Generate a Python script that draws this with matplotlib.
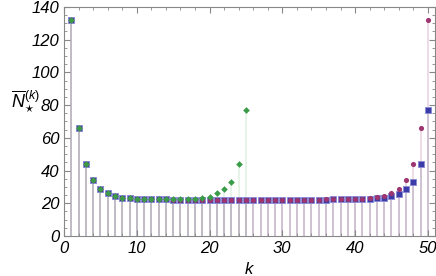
import matplotlib
matplotlib.use('Agg')
import matplotlib.pyplot as plt
from matplotlib.ticker import MultipleLocator

plt.rcParams['font.family'] = ['Liberation Sans', 'DejaVu Sans']
plt.rcParams['mathtext.fontset'] = 'custom'
plt.rcParams['mathtext.it'] = 'Liberation Sans:italic'
plt.rcParams['mathtext.rm'] = 'Liberation Sans'

# values
k_blue = list(range(1, 51))
n_blue = [132, 66, 44, 34, 29, 26, 24.3, 23.2, 23.0, 22.7,
          22.5, 22.4, 22.3, 22.3, 22.2, 22.2, 22.2, 22.2, 22.2, 22.2,
          22.2, 22.2, 22.2, 22.2, 22.2, 22.2, 22.2, 22.2, 22.2, 22.2,
          22.2, 22.2, 22.2, 22.2, 22.2, 22.2, 22.3, 22.3, 22.4, 22.4,
          22.5, 22.6, 23.0, 23.5, 24.4, 25.7, 28.5, 33.2, 44, 77]

k_purple = list(range(1, 51))
n_purple = [132, 66, 44, 34, 29, 26, 24.3, 23.2, 23.0, 22.7,
            22.5, 22.4, 22.3, 22.3, 22.2, 22.2, 22.2, 22.2, 22.2, 22.2,
            22.2, 22.2, 22.2, 22.2, 22.2, 22.2, 22.2, 22.2, 22.2, 22.2,
            22.2, 22.2, 22.2, 22.2, 22.2, 22.3, 22.3, 22.4, 22.4, 22.5,
            22.6, 23.0, 23.8, 24.6, 26.3, 29, 34, 44, 66, 132]

k_green = list(range(1, 26))
n_green = [132, 66, 44, 34, 29, 26, 24.3, 23.2, 23.0, 22.7,
           22.5, 22.4, 22.3, 22.3, 22.3, 22.4, 22.4, 22.6, 23.4, 24.0,
           26.0, 28.5, 33.2, 44.2, 77]

c_blue = '#3c3ca8'
c_purple = '#9c3570'
c_green = '#3a9b48'

fig = plt.figure(figsize=(4.36, 2.76), dpi=100)
ax = fig.add_axes([0.147, 0.145, 0.851, 0.83])

# stems, semi-transparent so overlapping ones blend
ax.vlines(k_green, 0, n_green, color=c_green, alpha=0.12, lw=1.4, zorder=1)
ax.vlines(k_purple, 0, n_purple, color=c_purple, alpha=0.18, lw=1.4, zorder=1)
ax.vlines(k_blue, 0, n_blue, color='#8080a0', alpha=0.28, lw=1.4, zorder=1)

ax.plot(k_blue, n_blue, 's', ms=4.6, color=c_blue, mec='#8c8cd6', mew=0.7, zorder=3)
ax.plot(k_purple, n_purple, 'o', ms=3.7, color=c_purple, mec=c_purple, mew=0, zorder=4)
ax.plot(k_green, n_green, 'D', ms=3.4, color=c_green, mec=c_green, mew=0, zorder=5)

ax.set_xlim(0, 51)
ax.set_ylim(0, 140)
ax.xaxis.set_major_locator(MultipleLocator(10))
ax.xaxis.set_minor_locator(MultipleLocator(2))
ax.yaxis.set_major_locator(MultipleLocator(20))
ax.yaxis.set_minor_locator(MultipleLocator(5))
ax.tick_params(which='both', direction='in', top=True, right=True,
               color='#888888', labelsize=12)
ax.tick_params(which='major', length=4, width=0.8)
ax.tick_params(which='minor', length=2.5, width=0.6)
for lab in ax.get_xticklabels() + ax.get_yticklabels():
    lab.set_fontstyle('italic')
for s in ax.spines.values():
    s.set_color('#888888')
    s.set_linewidth(0.8)

ax.set_xlabel('$k$', fontsize=12, labelpad=4)
ax.set_ylabel(r'$\overline{N}_{\star}^{(k)}$', fontsize=13, rotation=0, labelpad=14)
ax.yaxis.set_label_coords(-0.105, 0.53)

fig.savefig('out.png', dpi=100)
